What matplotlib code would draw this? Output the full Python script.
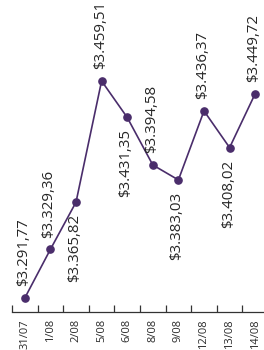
import matplotlib.pyplot as plt

dates = ["31/07", "1/08", "2/08", "5/08", "6/08", "8/08", "9/08", "12/08", "13/08", "14/08"]
values = [3291.77, 3329.36, 3365.82, 3459.51, 3431.35, 3394.58, 3383.03, 3436.37, 3408.02, 3449.72]
labels = ["$3.291,77", "$3.329,36", "$3.365,82", "$3.459,51", "$3.431,35",
          "$3.394,58", "$3.383,03", "$3.436,37", "$3.408,02", "$3.449,72"]
# 1 = label above the point, -1 = below
label_side = [1, 1, -1, 1, -1, 1, -1, 1, -1, 1]

PURPLE = "#4a2d6b"

fig = plt.figure(figsize=(2.64, 3.50), dpi=100)
ax = fig.add_axes([12 / 264, 38 / 350, 256 / 264, 312 / 350])

x = list(range(len(dates)))
ax.plot(x, values, color=PURPLE, lw=1.2, marker="o", markersize=5.2, zorder=3)

for xi, v, txt, side in zip(x, values, labels, label_side):
    ax.annotate(txt, (xi, v), xytext=(-1, 8.5 * side), textcoords="offset points",
                rotation=90, ha="center", va="bottom" if side > 0 else "top",
                fontsize=10.8, family="Open Sans", color="#262626")

ax.set_xlim(-0.5, 9.5)
ax.set_ylim(3280.95, 3522.1)

ax.set_xticks(x)
ax.set_xticklabels(dates, rotation=90, va="top", ha="center",
                   fontsize=8, family="Open Sans", color="#2a2a2a")
ax.tick_params(axis="x", which="major", length=0, pad=5)
ax.set_xticks([i - 0.5 for i in range(len(dates) + 1)], minor=True)
ax.tick_params(axis="x", which="minor", direction="in", length=5,
               width=0.9, color="#333333")
ax.set_yticks([])

for side in ("left", "right", "top"):
    ax.spines[side].set_visible(False)
ax.spines["bottom"].set_color("#333333")
ax.spines["bottom"].set_linewidth(0.9)

fig.savefig("out.png", dpi=100)
